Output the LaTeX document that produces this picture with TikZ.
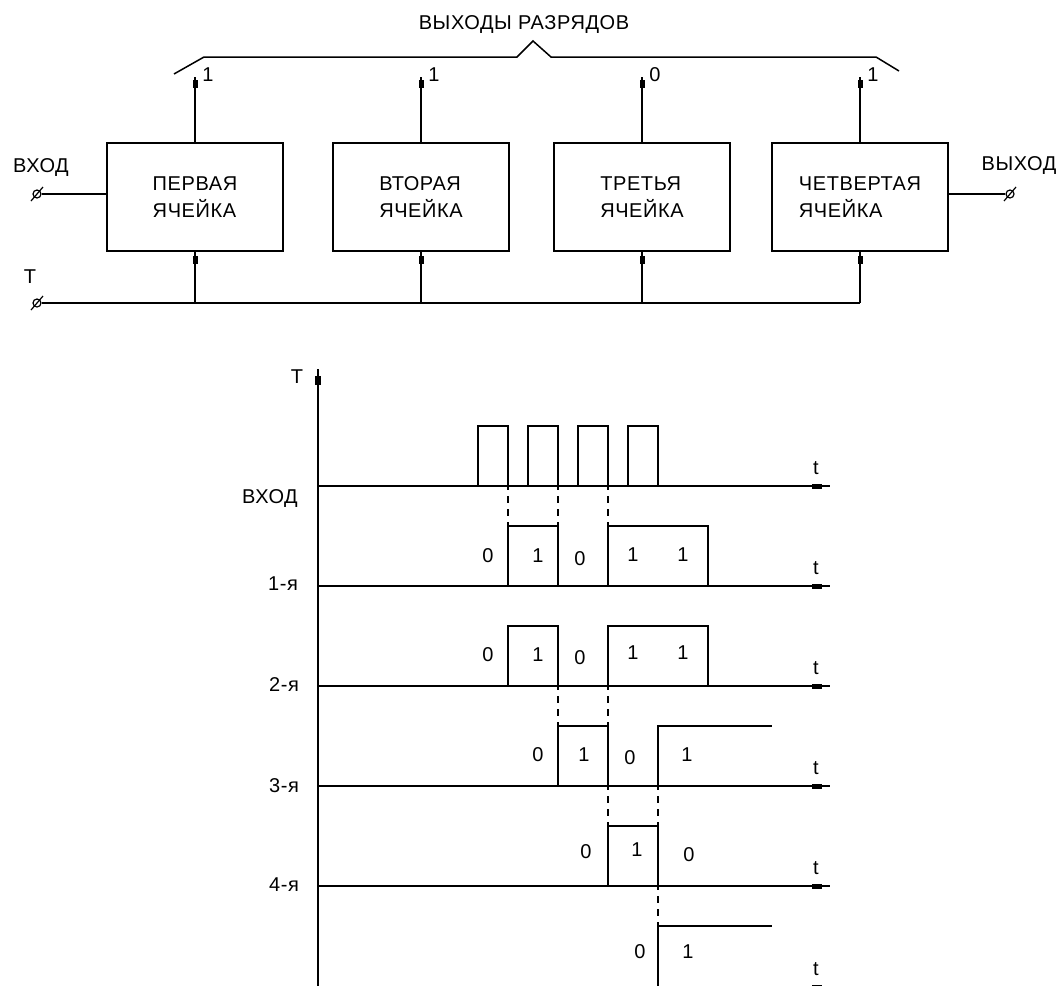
\documentclass[tikz,border=0pt]{standalone}
\usepackage{fontspec}
\setmainfont{Liberation Sans}[LetterSpace=3]
\begin{document}
\begin{tikzpicture}[x=1pt,y=-1pt,line width=1.7pt,
  every node/.style={font=\fontsize{20}{27}\selectfont,inner sep=0pt},
  cell/.style={draw,line width=1.7pt,minimum width=176pt,minimum height=108pt,align=left},
  term/.style={circle,draw,line width=1.2pt,minimum size=8pt},
  dotmark/.style={rectangle,fill,minimum width=5pt,minimum height=8pt},
  tmark/.style={rectangle,fill,minimum width=10pt,minimum height=5pt},
  sync/.style={line width=1.5pt,dash pattern=on 7pt off 6pt,dash phase=3pt},
  slash/.style={line width=1.2pt}]
\useasboundingbox (0,0) rectangle (1059,985);
\clip (0,0) rectangle (1059,985);

% ---------- shift register: four cells ----------
\node[cell] (c1) at (195,197) {ПЕРВАЯ\\ЯЧЕЙКА};
\node[cell] (c2) at (421,197) {ВТОРАЯ\\ЯЧЕЙКА};
\node[cell] (c3) at (642,197) {ТРЕТЬЯ\\ЯЧЕЙКА};
\node[cell] (c4) at (860,197) {ЧЕТВЕРТАЯ\\ЯЧЕЙКА};

% terminals
\node[term] (tin)  at (37,194)   {};
\node[term] (tT)   at (37,303)   {};
\node[term] (tout) at (1010,194) {};
\foreach \t in {tin,tT,tout}
  \draw[slash] ([shift={(-6pt,-7pt)}]\t.center) -- ([shift={(6pt,7pt)}]\t.center);

\node (lin)  at (41,168)   {ВХОД};
\node (lT)   at (30,277)   {Т};
\node (lout) at (1019,166) {ВЫХОД};

% input, output and clock bus
\draw (tin.east) -- (tin -| c1.west);
\draw (c4.east |- tout) -- (tout.west);
\coordinate (busend) at (tT -| c4.south);
\draw (tT.east) -- (busend);

% bit outputs and clock taps
\foreach \c/\v in {c1/1,c2/1,c3/0,c4/1}{
  \coordinate (\c-out) at ([yshift=65pt]\c.north);
  \draw (\c.north) -- (\c-out);
  \node[dotmark] (\c-od) at ([yshift=58pt]\c.north) {};
  \node (\c-bit) at ([xshift=13pt,yshift=68pt]\c.north) {\v};
  \coordinate (\c-tap) at (\c.south |- tT);
  \draw (\c-tap) -- (\c.south);
  \node[dotmark] (\c-cd) at ([yshift=-8pt]\c.south) {};
}

% brace over the outputs
\draw[line width=1.5pt] (174,74) -- (204,57) -- (517,57) -- (533,41)
  -- (551,57) -- (876,57) -- (899,71);
\node (lbits) at (524,25) {ВЫХОДЫ РАЗРЯДОВ};

% ---------- timing diagram ----------
\coordinate (axtop) at (318,369);
\coordinate (axbot) at (318,990);
\draw (axtop) -- (axbot);
\node[rectangle,fill,minimum width=6pt,minimum height=9pt] (axmark) at (318,380) {};
\node (axT) at (297,377) {Т};

% time axes
\foreach \b in {486,586,686,786,886,987}{
  \coordinate (ta\b) at (318,\b);
  \coordinate (te\b) at (830,\b);
  \draw (ta\b) -- (te\b);
  \node[tmark] (tm\b) at (817,\b) {};
  \node (tl\b) at (816,\b-18) {t};
}

% clock pulses
\draw (318,486) foreach \x in {478,528,578,628}
  { -- (\x,486) -- (\x,426) -- (\x+30,426) -- (\x+30,486) } -- (830,486);

% cell states
\draw (318,586) -- (508,586) -- (508,526) -- (558,526) -- (558,586)
  -- (608,586) -- (608,526) -- (708,526) -- (708,586) -- (830,586);
\draw (318,686) -- (508,686) -- (508,626) -- (558,626) -- (558,686)
  -- (608,686) -- (608,626) -- (708,626) -- (708,686) -- (830,686);
\draw (318,786) -- (558,786) -- (558,726) -- (608,726) -- (608,786)
  -- (658,786) -- (658,726) -- (772,726);
\draw (318,886) -- (608,886) -- (608,826) -- (658,826) -- (658,886) -- (830,886);
\draw (658,990) -- (658,926) -- (772,926);

% synchronisation lines
\foreach \x in {508,558,608} \draw[sync] (\x,486) -- (\x,526);
\foreach \x in {558,608}     \draw[sync] (\x,686) -- (\x,726);
\foreach \x in {608,658}     \draw[sync] (\x,786) -- (\x,826);
\draw[sync] (658,886) -- (658,926);

% row names
\node (r0) at (270,499) {ВХОД};
\node (r1) at (283,584) {1-я};
\node (r2) at (284,685) {2-я};
\node (r3) at (284,786) {3-я};
\node (r4) at (284,885) {4-я};

% bit values
\foreach \x/\y/\v [count=\i] in {488/556/0,538/556/1,580/559/0,633/555/1,683/555/1,
    488/655/0,538/655/1,580/658/0,633/653/1,683/653/1,
    538/755/0,584/755/1,630/758/0,687/755/1,
    586/852/0,637/850/1,689/855/0,
    640/952/0,688/952/1}
  \node (v\i) at (\x,\y) {\v};
\end{tikzpicture}
\end{document}
